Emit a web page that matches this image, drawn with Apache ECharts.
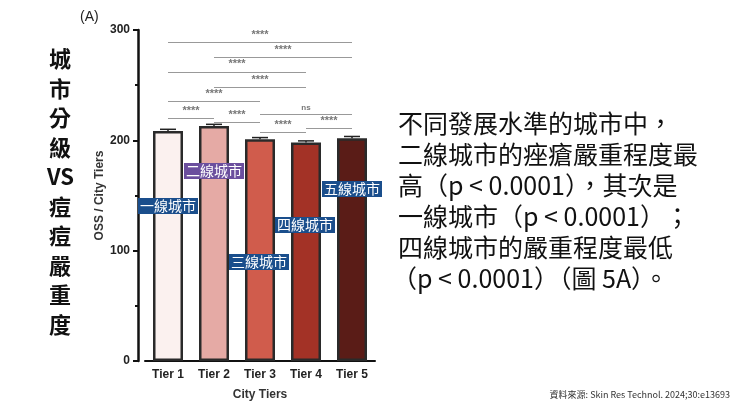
<!DOCTYPE html>
<html><head><meta charset="utf-8">
<script src="https://cdn.jsdelivr.net/npm/echarts@6/dist/echarts.min.js"></script>
<style>html,body{margin:0;padding:0;background:#fff}#c{width:740px;height:416px}</style>
</head><body><div id="c"></div>
<script>
const categories=['Tier 1','Tier 2','Tier 3','Tier 4','Tier 5'];
const values=[208.5,213,201,198,202];
const errors=[1.5,1.5,1.5,1.5,1.5];
const barColors=['#fbf1ef','#e5aaa5','#d05c4c','#a33226','#5a1c17'];
const yTicks=[0,100,200,300];
const sigPairs=[[0,4,289,'****'],[1,4,275,'****'],[0,3,262,'****'],[1,3,248,'****'],[0,2,235,'****'],[0,1,220,'****'],[1,2,216,'****'],[2,4,224,'ns'],[2,3,207,'****'],[3,4,211,'****']];
const cityLabels=['一線城市','二線城市','三線城市','四線城市','五線城市'];
const titleChars=['城','市','分','級','VS','痘','痘','嚴','重','度'];
const bodyLines=['不同發展水準的城市中，','二線城市的痤瘡嚴重程度最','高（p < 0.0001），其次是','一線城市（p < 0.0001）；','四線城市的嚴重程度最低','（p < 0.0001）（圖 5A）。'];
const source='資料來源: Skin Res Technol. 2024;30:e13693';

const chart=echarts.init(document.getElementById('c'));
const F='"Noto Sans CJK TC","Noto Sans",sans-serif';
const graphics=[];
titleChars.forEach((t,i)=>graphics.push({type:'text',left:t==='VS'?47:49,top:48+i*29.5,style:{text:t,font:'bold 22px '+F,fill:'#111'}}));
bodyLines.forEach((t,i)=>graphics.push({type:'text',left:i==5?392:398,top:111+i*31,style:{text:t,font:'25px '+F,fill:'#111'}}));
graphics.push({type:'text',right:10,top:390,style:{text:source,font:'9px '+F,fill:'#333'}});
graphics.push({type:'text',left:80,top:10,style:{text:'(A)',font:'14px Liberation Sans,Arial',fill:'#222'}});
const boxes=[[138,198,'#1a4e8c'],[184,163,'#6b4f9e'],[229,254,'#1a4e8c'],[275,217,'#1a4e8c'],[322,181,'#1a4e8c']];
boxes.forEach((b,i)=>graphics.push({type:'text',left:b[0],top:b[1],z:100,style:{text:cityLabels[i],font:'14px '+F,fill:'#fff',backgroundColor:b[2],padding:[1,2]}}));

chart.setOption({
 animation:false,
 grid:{left:145,right:365,top:30,bottom:55},
 graphic:graphics,
 xAxis:{type:'category',data:categories,name:'City Tiers',nameLocation:'middle',nameGap:28,
  nameTextStyle:{fontWeight:'bold',fontSize:12,color:'#333',fontFamily:'Liberation Sans'},
  axisLine:{lineStyle:{color:'#111',width:2}},axisTick:{alignWithLabel:true,lineStyle:{color:'#111',width:2}},
  axisLabel:{fontWeight:'bold',fontSize:12,color:'#222',fontFamily:'Liberation Sans'}},
 yAxis:{type:'value',min:0,max:300,interval:100,offset:7,name:'OSS / City Tiers',nameLocation:'middle',nameGap:32,
  nameTextStyle:{fontWeight:'bold',fontSize:12,color:'#333',fontFamily:'Liberation Sans'},
  axisLine:{show:true,lineStyle:{color:'#111',width:2.5}},axisTick:{show:true,lineStyle:{color:'#111',width:2}},
  minorTick:{show:true,splitNumber:2,length:3,lineStyle:{color:'#111',width:2}},
  splitLine:{show:false},axisLabel:{fontWeight:'bold',fontSize:12,color:'#222',fontFamily:'Liberation Sans'}},
 series:[{type:'bar',barWidth:30,data:values.map((v,i)=>({value:v,itemStyle:{color:barColors[i]}})),
   itemStyle:{borderColor:'#2a2a2a',borderWidth:2.5},
   markLine:{symbol:'none',silent:true,lineStyle:{color:'#999',width:1,type:'solid'},
    label:{show:true,position:'middle',color:'#777',fontSize:11,fontWeight:'bold',distance:2},
    data:sigPairs.map(p=>[{coord:[p[0],p[2]],label:{formatter:p[3],fontSize:p[3]==='ns'?8:11}},{coord:[p[1],p[2]]}])}},
  {type:'custom',data:values.map((v,i)=>[i,v,errors[i]]),z:10,
   renderItem:(params,api)=>{const x=api.coord([api.value(0),0])[0];const t=api.coord([0,api.value(1)+api.value(2)])[1];const m=api.coord([0,api.value(1)])[1];
    return {type:'group',children:[{type:'line',shape:{x1:x,y1:m,x2:x,y2:t},style:{stroke:'#222',lineWidth:1.5}},{type:'line',shape:{x1:x-8,y1:t,x2:x+8,y2:t},style:{stroke:'#222',lineWidth:1.5}}]};}}]
});
</script></body></html>
